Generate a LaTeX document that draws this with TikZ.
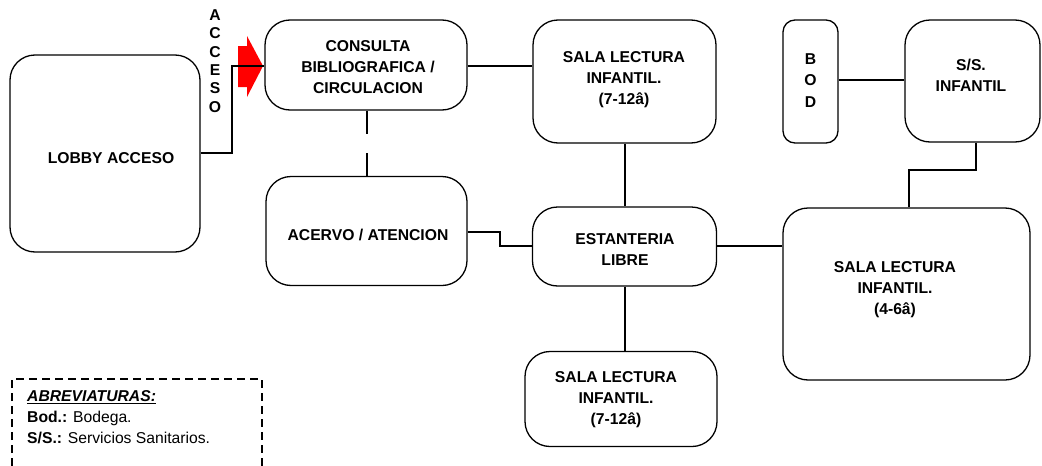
\documentclass[tikz,border=0pt]{standalone}
\usepackage{fontspec}
\setmainfont{Liberation Sans}
\usetikzlibrary{positioning}
\begin{document}
\begin{tikzpicture}[x=1pt,y=-1pt,
  box/.style={draw, line width=1.3pt, rounded corners=25pt, align=center, inner sep=0pt},
  conn/.style={line width=1.3pt},
  lbl/.style={align=center, inner sep=0pt, font=\fontsize{15.7}{21}\selectfont\bfseries}]
\useasboundingbox (0,0) rectangle (1042,466);
% boxes
\node[box, minimum width=190pt, minimum height=197pt] (lobby) at (105,153.5) {};
\node[lbl] at (111,158) {LOBBY ACCESO};
\node[box, minimum width=202pt, minimum height=90pt] (cons) at (366,65) {};
\node[lbl] at (368,67) {CONSULTA\\BIBLIOGRAFICA /\\CIRCULACION};
\node[box, minimum width=183pt, minimum height=123pt] (salaA) at (624.5,81.5) {};
\node[lbl] at (624,80) {SALA LECTURA\\INFANTIL.\\(7-12â)};
\node[box, rounded corners=12pt, minimum width=55pt, minimum height=123pt] (bod) at (810.5,81.5) {};
\node[lbl, font=\fontsize{15.7}{21.5}\selectfont\bfseries] at (810.5,80.5) {B\\O\\D};
\node[box, minimum width=135pt, minimum height=122pt] (ss) at (972.5,81) {};
\node[lbl] at (971,75) {S/S.\\INFANTIL};
\node[box, minimum width=201pt, minimum height=109pt] (acer) at (366.5,231) {};
\node[lbl] at (368,235) {ACERVO / ATENCION};
\node[box, minimum width=184pt, minimum height=79pt] (est) at (624.5,246.5) {};
\node[lbl] at (625,249.5) {ESTANTERIA\\LIBRE};
\node[box, minimum width=247pt, minimum height=172pt] (salaC) at (906.5,294) {};
\node[lbl] at (895,290) {SALA LECTURA\\INFANTIL.\\(4-6â)};
\node[box, minimum width=192pt, minimum height=95pt] (salaB) at (621,399) {};
\node[lbl] at (616,400) {SALA LECTURA\\INFANTIL.\\(7-12â)};
% acceso label and arrow
\node[lbl, font=\fontsize{15.7}{18.4}\selectfont\bfseries] (acc) at (215,61) {A\\C\\C\\E\\S\\O};
\fill[red] (238,46) -- (247,46) -- (247,36) -- (263,66) -- (247,97) -- (247,87) -- (238,87) -- cycle;
% connectors
\coordinate (j1) at (232,153);
\draw[conn] (lobby.east |- j1) -- (j1) -- (232,66) -- (cons.west |- 0,66);
\draw[conn] (cons.east |- 0,66) -- (salaA.west |- 0,66);
\draw[conn] (cons.south -| 367,0) -- (367,134);
\draw[conn] (367,153) -- (acer.north -| 367,0);
\draw[conn] (acer.east |- 0,232) -- (500,232) -- (500,246) -- (est.west |- 0,246);
\draw[conn] (salaA.south -| 625,0) -- (est.north -| 625,0);
\draw[conn] (est.south -| 625,0) -- (salaB.north -| 625,0);
\draw[conn] (est.east |- 0,246) -- (salaC.west |- 0,246);
\draw[conn] (bod.east |- 0,80) -- (ss.west |- 0,80);
\draw[conn] (ss.south -| 976,0) -- (976,170) -- (909,170) -- (salaC.north -| 909,0);
% legend
\draw[line width=1.2pt, dash pattern=on 8pt off 5pt] (12,466) -- (12,379) -- (262,379) -- (262,466);
\node[anchor=west, inner sep=0pt, font=\fontsize{15.7}{16}\selectfont\bfseries\itshape] (ab) at (27,397) {\underline{ABREVIATURAS:}};
\node[anchor=west, inner sep=0pt, font=\fontsize{15.7}{16}\selectfont] (l1) at (27,418) {\textbf{Bod.:} Bodega.};
\node[anchor=west, inner sep=0pt, font=\fontsize{15.7}{16}\selectfont] (l2) at (27,438) {\textbf{S/S.:} Servicios Sanitarios.};
\end{tikzpicture}
\end{document}
